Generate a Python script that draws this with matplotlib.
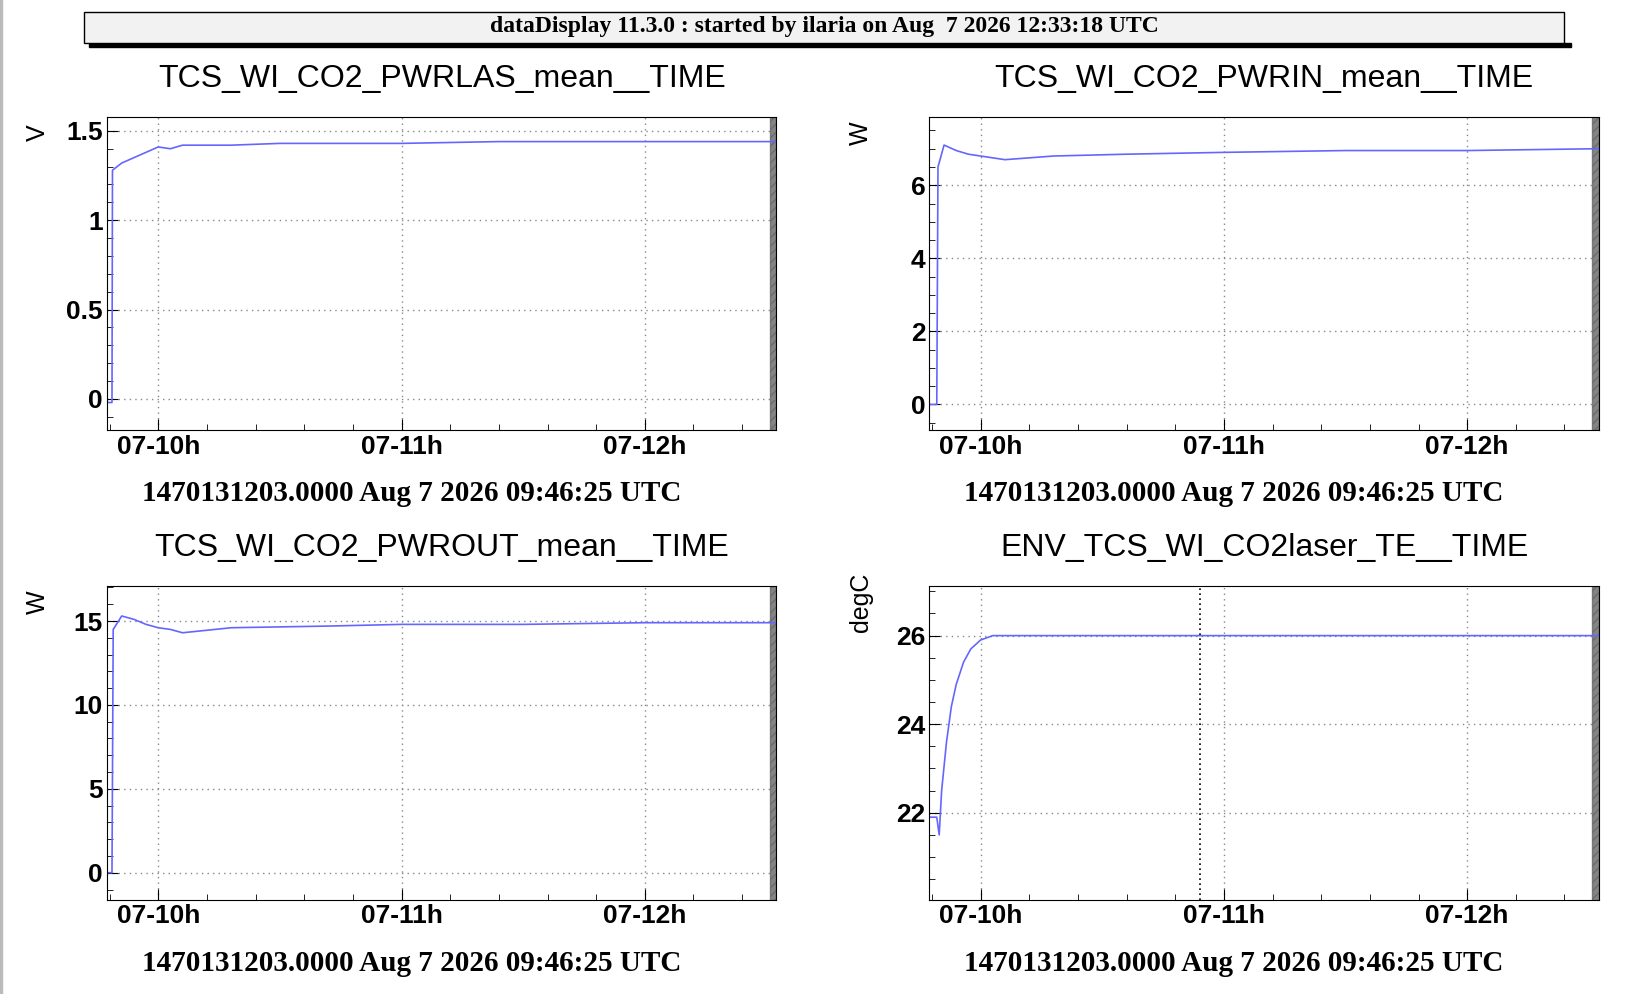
import matplotlib.pyplot as plt
from matplotlib.patches import Rectangle

# time in hours of Aug 7 (UTC)
t_las = [9.79, 9.81, 9.812, 9.85, 9.9, 9.95, 10.0, 10.05, 10.1, 10.3, 10.5, 11.0, 11.4, 12.0, 12.54]
v_las = [-0.02, -0.02, 1.28, 1.32, 1.35, 1.38, 1.41, 1.40, 1.42, 1.42, 1.43, 1.43, 1.44, 1.44, 1.44]

t_in = [9.79, 9.82, 9.825, 9.85, 9.9, 9.95, 10.0, 10.05, 10.1, 10.3, 10.6, 11.0, 11.5, 12.0, 12.54]
v_in = [0.0, 0.0, 6.5, 7.1, 6.95, 6.85, 6.8, 6.75, 6.7, 6.8, 6.85, 6.9, 6.95, 6.95, 7.0]

t_out = [9.79, 9.81, 9.815, 9.85, 9.9, 9.95, 10.0, 10.05, 10.1, 10.3, 10.7, 11.0, 11.5, 12.0, 12.54]
v_out = [0.0, 0.0, 14.5, 15.3, 15.1, 14.8, 14.6, 14.5, 14.3, 14.6, 14.7, 14.8, 14.8, 14.9, 14.9]

t_te = [9.79, 9.82, 9.83, 9.84, 9.86, 9.88, 9.9, 9.93, 9.96, 10.0, 10.05, 10.1, 11.0, 12.0, 12.54]
v_te = [21.9, 21.9, 21.5, 22.5, 23.6, 24.4, 24.9, 25.4, 25.7, 25.9, 26.0, 26.0, 26.0, 26.0, 26.0]

titles = ['TCS_WI_CO2_PWRLAS_mean__TIME', 'TCS_WI_CO2_PWRIN_mean__TIME',
          'TCS_WI_CO2_PWROUT_mean__TIME', 'ENV_TCS_WI_CO2laser_TE__TIME']
units = ['V', 'W', 'W', 'degC']
ylims = [(-0.176, 1.576), (-0.71, 7.86), (-1.6, 17.06), (20.04, 27.11)]
yticks = [([0, 0.5, 1, 1.5], ['0', '0.5', '1', '1.5']), ([0, 2, 4, 6], ['0', '2', '4', '6']),
          ([0, 5, 10, 15], ['0', '5', '10', '15']), ([22, 24, 26], ['22', '24', '26'])]
xticks = [10, 11, 12]
xticklabels = ['07-10h', '07-11h', '07-12h']
xlabel = '1470131203.0000 Aug 7 2026 09:46:25 UTC'
series = [(t_las, v_las), (t_in, v_in), (t_out, v_out), (t_te, v_te)]
boxes = [(0.065, 0.567), (0.564, 0.567), (0.065, 0.095), (0.564, 0.095)]

fig = plt.figure(figsize=(16.48, 9.94), dpi=100)
fig.patches.append(Rectangle((0.0, 0.0), 0.0015, 1.0, transform=fig.transFigure, color='#bbbbbb'))

# header box
fig.patches.append(Rectangle((0.054, 0.953), 0.899, 0.004, transform=fig.transFigure, color='black'))
fig.patches.append(Rectangle((0.051, 0.957), 0.898, 0.031, transform=fig.transFigure,
                             facecolor='#f2f2f2', edgecolor='black', lw=1))
fig.text(0.5, 0.973, 'dataDisplay 11.3.0 : started by ilaria on Aug  7 2026 12:33:18 UTC',
         ha='center', va='center', family='Liberation Serif', weight='bold', fontsize=17)

for i in range(4):
    ax = fig.add_axes([boxes[i][0], boxes[i][1], 0.406, 0.315])
    t, v = series[i]
    ax.plot(t, v, color='#6666ff', lw=1.2)
    ax.set_xlim(9.79, 12.54)
    ax.set_ylim(ylims[i])
    ax.set_xticks(xticks)
    ax.set_xticklabels(xticklabels, fontsize=19, weight='bold', family='Liberation Sans')
    ax.set_yticks(yticks[i][0])
    ax.set_yticklabels(yticks[i][1], fontsize=19, weight='bold', family='Liberation Sans')
    ax.tick_params(direction='in', length=8, top=False, right=False, pad=3)
    ax.minorticks_on()
    ax.tick_params(which='minor', direction='in', length=4)
    ax.grid(True, linestyle=(0, (1, 3)), color='#888888', lw=1)
    ax.set_title(titles[i], fontsize=23, family='Liberation Sans', pad=22)
    ax.set_xlabel(xlabel, fontsize=21, weight='bold', family='Liberation Serif')
    ax.xaxis.set_label_coords(0.455, -0.16)
    ax.set_ylabel(units[i], fontsize=18, family='Liberation Sans', rotation=90)
    ax.yaxis.set_label_coords(-0.085, 0.95)
    ax.axvspan(12.515, 12.54, color='#666666', hatch='////', alpha=0.8)
    if i == 3:
        ax.axvline(10.9, color='black', linestyle=(0, (1, 2)), lw=1.2)

fig.savefig('out.png')
